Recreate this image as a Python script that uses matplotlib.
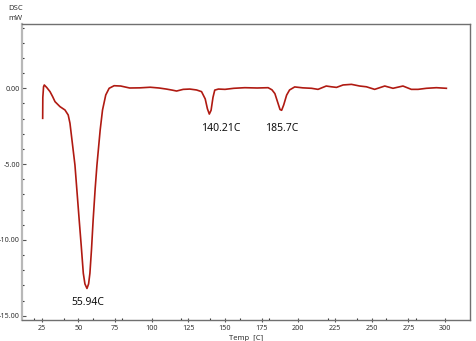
import matplotlib
matplotlib.use("Agg")
import matplotlib.pyplot as plt
from matplotlib.ticker import MultipleLocator, FormatStrFormatter

plt.rcParams['font.family'] = ['Noto Sans', 'DejaVu Sans']
plt.rcParams['axes.unicode_minus'] = False

# =======================
# Données lues sur la courbe DSC
# =======================
temp = [25.7, 25.8, 26.3, 26.8, 28.5, 30.7, 32.5, 34.1, 37.5, 40.9, 43.1,
        44.3, 45.4, 47.7, 50.6, 52.0, 53.4, 54.5, 55.9, 57.0,
        57.9, 59.0, 60.1, 61.5, 62.7, 64.9, 66.5, 68.7, 71.0, 74.4,
        78.9, 85.0, 92.0, 99.0, 105.0, 110.0, 114.0, 117.0, 121.5,
        126.0, 130.6, 134.0, 136.5, 138.0, 139.3, 140.5, 141.8, 143.0,
        145.5, 150.0, 156.0, 163.5, 172.0, 179.4, 182.0, 184.0, 186.0,
        187.5, 188.6, 190.0, 192.0, 194.0, 197.5, 203.0, 209.0, 213.4,
        219.0, 222.5, 226.0, 230.5, 236.2, 241.8, 246.4, 252.0, 258.9,
        264.5, 271.3, 277.0, 281.6, 287.3, 294.1, 300.9]
dsc = [-1.98, -0.6, 0.1, 0.22, 0.05, -0.22, -0.55, -0.88, -1.21, -1.43, -1.76,
       -2.3, -3.19, -5.06, -8.69, -10.4, -12.2, -12.9, -13.2, -12.9,
       -12.2, -10.6, -8.69, -6.6, -5.06, -2.75, -1.43, -0.44, 0.0, 0.17,
       0.15, 0.02, 0.03, 0.07, 0.02, -0.05, -0.12, -0.18, -0.07,
       -0.05, -0.11, -0.22, -0.7, -1.35, -1.7, -1.45, -0.6, -0.12,
       -0.05, -0.07, 0.0, 0.04, 0.02, 0.04, -0.1, -0.35, -0.95,
       -1.4, -1.45, -1.1, -0.45, -0.11, 0.09, 0.03, 0.0, -0.07,
       0.15, 0.1, 0.06, 0.22, 0.26, 0.15, 0.1, -0.07, 0.15,
       0.0, 0.15, -0.07, -0.07, 0.0, 0.04, 0.0]

pic_labels = ["55.94C", "140.21C", "185.7C"]
pic_x = [56.4, 147.3, 188.7]
pic_y = [-14.1, -2.68, -2.68]

# =======================
# Figure
# =======================
fig = plt.figure(figsize=(4.77, 3.41), dpi=100)
ax = fig.add_axes([0.0461, 0.0616, 0.9392, 0.868])

ax.plot(temp, dsc, color='#b01a12', lw=1.2)

for lab, x, y in zip(pic_labels, pic_x, pic_y):
    ax.text(x, y, lab, ha='center', va='center', fontsize=7.5, color='#111111')

ax.set_xlim(11.6, 317)
ax.set_ylim(-15.28, 4.24)

ax.xaxis.set_major_locator(MultipleLocator(25))
ax.xaxis.set_minor_locator(MultipleLocator(20))
ax.yaxis.set_major_locator(MultipleLocator(5))
ax.yaxis.set_minor_locator(MultipleLocator(1))
ax.yaxis.set_major_formatter(FormatStrFormatter('%.2f'))

ax.tick_params(axis='both', which='major', labelsize=5.2, labelcolor='#333333',
               color='#555555', length=3, width=0.8, pad=1.5)
ax.tick_params(axis='x', which='major', direction='inout', pad=2)
ax.tick_params(axis='y', which='major', direction='in')
ax.tick_params(axis='both', which='minor', direction='in', length=1.5,
               width=0.8, color='#333333')

for s in ['top', 'bottom', 'right']:
    ax.spines[s].set_color('#707070')
    ax.spines[s].set_linewidth(1.0)
ax.spines['left'].set_color('#b8b8b8')
ax.spines['left'].set_linewidth(1.6)

ax.set_xlabel("Temp  [C]", fontsize=5.5, color='#333333', labelpad=2)

fig.text(0.017, 0.975, "DSC", fontsize=5.5, color='#333333', va='center')
fig.text(0.017, 0.945, "mW", fontsize=5.5, color='#333333', va='center')

fig.savefig("out.png", dpi=100)
